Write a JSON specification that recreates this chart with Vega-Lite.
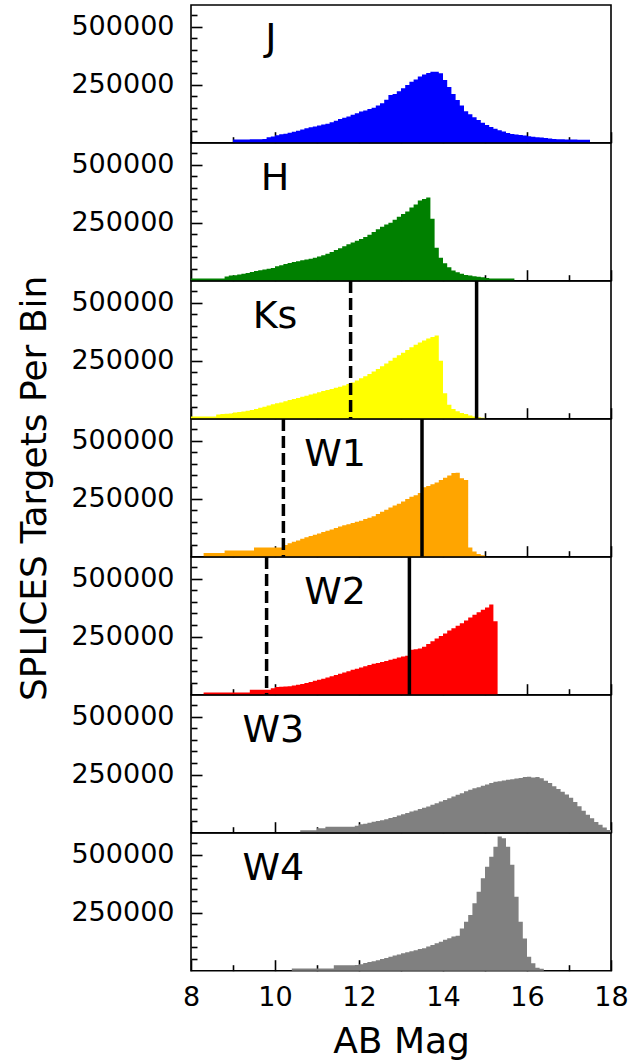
{
 "$schema": "https://vega.github.io/schema/vega-lite/v6.json",
 "background": "white",
 "padding": {"left": 16, "top": 0, "right": 16, "bottom": 2},
 "spacing": 0,
 "bounds": "flush",
 "config": {
  "view": {"stroke": "#000", "strokeWidth": 1.6},
  "axis": {"domain": false, "grid": false, "labelFont": "DejaVu Sans", "labelFontSize": 27, "labelColor": "#000", "tickColor": "#000", "tickWidth": 1.6, "titleFont": "DejaVu Sans", "titleFontSize": 36, "titleFontWeight": "normal", "titleColor": "#000", "labelOverlap": false, "zindex": 1, "tickCount": 30},
  "concat": {"spacing": 0}
 },
 "datasets": {
  "hist": [
   {"b":"J","m":9.0,"n":14000},{"b":"J","m":9.1,"n":14000},{"b":"J","m":9.2,"n":14000},{"b":"J","m":9.3,"n":14000},{"b":"J","m":9.4,"n":15000},{"b":"J","m":9.5,"n":15000},{"b":"J","m":9.6,"n":15000},{"b":"J","m":9.7,"n":16000},{"b":"J","m":9.8,"n":24000},{"b":"J","m":9.9,"n":27000},
   {"b":"J","m":10.0,"n":32000},{"b":"J","m":10.1,"n":36000},{"b":"J","m":10.2,"n":39000},{"b":"J","m":10.3,"n":43000},{"b":"J","m":10.4,"n":47000},{"b":"J","m":10.5,"n":52000},{"b":"J","m":10.6,"n":57000},{"b":"J","m":10.7,"n":62000},{"b":"J","m":10.8,"n":66000},{"b":"J","m":10.9,"n":70000},
   {"b":"J","m":11.0,"n":74000},{"b":"J","m":11.1,"n":78000},{"b":"J","m":11.2,"n":82000},{"b":"J","m":11.3,"n":88000},{"b":"J","m":11.4,"n":95000},{"b":"J","m":11.5,"n":102000},{"b":"J","m":11.6,"n":107000},{"b":"J","m":11.7,"n":113000},{"b":"J","m":11.8,"n":120000},{"b":"J","m":11.9,"n":127000},
   {"b":"J","m":12.0,"n":134000},{"b":"J","m":12.1,"n":139000},{"b":"J","m":12.2,"n":145000},{"b":"J","m":12.3,"n":150000},{"b":"J","m":12.4,"n":160000},{"b":"J","m":12.5,"n":170000},{"b":"J","m":12.6,"n":185000},{"b":"J","m":12.7,"n":205000},{"b":"J","m":12.8,"n":210000},{"b":"J","m":12.9,"n":222000},
   {"b":"J","m":13.0,"n":234000},{"b":"J","m":13.1,"n":248000},{"b":"J","m":13.2,"n":262000},{"b":"J","m":13.3,"n":272000},{"b":"J","m":13.4,"n":285000},{"b":"J","m":13.5,"n":294000},{"b":"J","m":13.6,"n":300000},{"b":"J","m":13.7,"n":306000},{"b":"J","m":13.8,"n":306000},{"b":"J","m":13.9,"n":299000},
   {"b":"J","m":14.0,"n":270000},{"b":"J","m":14.1,"n":240000},{"b":"J","m":14.2,"n":210000},{"b":"J","m":14.3,"n":184000},{"b":"J","m":14.4,"n":160000},{"b":"J","m":14.5,"n":135000},{"b":"J","m":14.6,"n":122000},{"b":"J","m":14.7,"n":110000},{"b":"J","m":14.8,"n":98000},{"b":"J","m":14.9,"n":86000},
   {"b":"J","m":15.0,"n":76000},{"b":"J","m":15.1,"n":68000},{"b":"J","m":15.2,"n":60000},{"b":"J","m":15.3,"n":54000},{"b":"J","m":15.4,"n":48000},{"b":"J","m":15.5,"n":42000},{"b":"J","m":15.6,"n":38000},{"b":"J","m":15.7,"n":35000},{"b":"J","m":15.8,"n":33000},{"b":"J","m":15.9,"n":31000},
   {"b":"J","m":16.0,"n":28000},{"b":"J","m":16.1,"n":26000},{"b":"J","m":16.2,"n":24000},{"b":"J","m":16.3,"n":22000},{"b":"J","m":16.4,"n":20000},{"b":"J","m":16.5,"n":18000},{"b":"J","m":16.6,"n":16000},{"b":"J","m":16.7,"n":15000},{"b":"J","m":16.8,"n":15000},{"b":"J","m":16.9,"n":14000},
   {"b":"J","m":17.0,"n":14000},{"b":"J","m":17.1,"n":14000},{"b":"J","m":17.2,"n":13000},{"b":"J","m":17.3,"n":13000},{"b":"J","m":17.4,"n":13000},{"b":"J","m":17.5,"n":0},

   {"b":"H","m":8.0,"n":9000},{"b":"H","m":8.1,"n":9000},{"b":"H","m":8.2,"n":9000},{"b":"H","m":8.3,"n":9000},{"b":"H","m":8.4,"n":9000},{"b":"H","m":8.5,"n":9000},{"b":"H","m":8.6,"n":9000},{"b":"H","m":8.7,"n":9000},{"b":"H","m":8.8,"n":18000},{"b":"H","m":8.9,"n":22000},
   {"b":"H","m":9.0,"n":24000},{"b":"H","m":9.1,"n":27000},{"b":"H","m":9.2,"n":30000},{"b":"H","m":9.3,"n":33000},{"b":"H","m":9.4,"n":38000},{"b":"H","m":9.5,"n":42000},{"b":"H","m":9.6,"n":45000},{"b":"H","m":9.7,"n":48000},{"b":"H","m":9.8,"n":51000},{"b":"H","m":9.9,"n":55000},
   {"b":"H","m":10.0,"n":62000},{"b":"H","m":10.1,"n":67000},{"b":"H","m":10.2,"n":72000},{"b":"H","m":10.3,"n":76000},{"b":"H","m":10.4,"n":80000},{"b":"H","m":10.5,"n":84000},{"b":"H","m":10.6,"n":88000},{"b":"H","m":10.7,"n":91000},{"b":"H","m":10.8,"n":94000},{"b":"H","m":10.9,"n":99000},
   {"b":"H","m":11.0,"n":104000},{"b":"H","m":11.1,"n":110000},{"b":"H","m":11.2,"n":116000},{"b":"H","m":11.3,"n":124000},{"b":"H","m":11.4,"n":132000},{"b":"H","m":11.5,"n":140000},{"b":"H","m":11.6,"n":148000},{"b":"H","m":11.7,"n":157000},{"b":"H","m":11.8,"n":165000},{"b":"H","m":11.9,"n":172000},
   {"b":"H","m":12.0,"n":180000},{"b":"H","m":12.1,"n":188000},{"b":"H","m":12.2,"n":198000},{"b":"H","m":12.3,"n":210000},{"b":"H","m":12.4,"n":222000},{"b":"H","m":12.5,"n":232000},{"b":"H","m":12.6,"n":242000},{"b":"H","m":12.7,"n":250000},{"b":"H","m":12.8,"n":262000},{"b":"H","m":12.9,"n":275000},
   {"b":"H","m":13.0,"n":287000},{"b":"H","m":13.1,"n":298000},{"b":"H","m":13.2,"n":315000},{"b":"H","m":13.3,"n":328000},{"b":"H","m":13.4,"n":345000},{"b":"H","m":13.5,"n":352000},{"b":"H","m":13.6,"n":358000},{"b":"H","m":13.7,"n":267000},{"b":"H","m":13.8,"n":142000},{"b":"H","m":13.9,"n":99000},
   {"b":"H","m":14.0,"n":75000},{"b":"H","m":14.1,"n":58000},{"b":"H","m":14.2,"n":44000},{"b":"H","m":14.3,"n":36000},{"b":"H","m":14.4,"n":30000},{"b":"H","m":14.5,"n":25000},{"b":"H","m":14.6,"n":22000},{"b":"H","m":14.7,"n":19000},{"b":"H","m":14.8,"n":17000},{"b":"H","m":14.9,"n":15000},
   {"b":"H","m":15.0,"n":12000},{"b":"H","m":15.1,"n":10000},{"b":"H","m":15.2,"n":9000},{"b":"H","m":15.3,"n":9000},{"b":"H","m":15.4,"n":9000},{"b":"H","m":15.5,"n":9000},{"b":"H","m":15.6,"n":9000},{"b":"H","m":15.7,"n":0},

   {"b":"Ks","m":8.0,"n":9000},{"b":"Ks","m":8.1,"n":9000},{"b":"Ks","m":8.2,"n":9000},{"b":"Ks","m":8.3,"n":9000},{"b":"Ks","m":8.4,"n":9000},{"b":"Ks","m":8.5,"n":9000},{"b":"Ks","m":8.6,"n":18000},{"b":"Ks","m":8.7,"n":20000},{"b":"Ks","m":8.8,"n":21000},{"b":"Ks","m":8.9,"n":22000},
   {"b":"Ks","m":9.0,"n":27000},{"b":"Ks","m":9.1,"n":29000},{"b":"Ks","m":9.2,"n":31000},{"b":"Ks","m":9.3,"n":34000},{"b":"Ks","m":9.4,"n":38000},{"b":"Ks","m":9.5,"n":42000},{"b":"Ks","m":9.6,"n":47000},{"b":"Ks","m":9.7,"n":52000},{"b":"Ks","m":9.8,"n":57000},{"b":"Ks","m":9.9,"n":62000},
   {"b":"Ks","m":10.0,"n":66000},{"b":"Ks","m":10.1,"n":70000},{"b":"Ks","m":10.2,"n":75000},{"b":"Ks","m":10.3,"n":80000},{"b":"Ks","m":10.4,"n":85000},{"b":"Ks","m":10.5,"n":89000},{"b":"Ks","m":10.6,"n":94000},{"b":"Ks","m":10.7,"n":99000},{"b":"Ks","m":10.8,"n":104000},{"b":"Ks","m":10.9,"n":109000},
   {"b":"Ks","m":11.0,"n":114000},{"b":"Ks","m":11.1,"n":119000},{"b":"Ks","m":11.2,"n":124000},{"b":"Ks","m":11.3,"n":128000},{"b":"Ks","m":11.4,"n":133000},{"b":"Ks","m":11.5,"n":138000},{"b":"Ks","m":11.6,"n":143000},{"b":"Ks","m":11.7,"n":149000},{"b":"Ks","m":11.8,"n":156000},{"b":"Ks","m":11.9,"n":165000},
   {"b":"Ks","m":12.0,"n":174000},{"b":"Ks","m":12.1,"n":183000},{"b":"Ks","m":12.2,"n":193000},{"b":"Ks","m":12.3,"n":203000},{"b":"Ks","m":12.4,"n":214000},{"b":"Ks","m":12.5,"n":226000},{"b":"Ks","m":12.6,"n":238000},{"b":"Ks","m":12.7,"n":250000},{"b":"Ks","m":12.8,"n":262000},{"b":"Ks","m":12.9,"n":273000},
   {"b":"Ks","m":13.0,"n":284000},{"b":"Ks","m":13.1,"n":296000},{"b":"Ks","m":13.2,"n":308000},{"b":"Ks","m":13.3,"n":318000},{"b":"Ks","m":13.4,"n":328000},{"b":"Ks","m":13.5,"n":337000},{"b":"Ks","m":13.6,"n":345000},{"b":"Ks","m":13.7,"n":352000},{"b":"Ks","m":13.8,"n":358000},{"b":"Ks","m":13.9,"n":250000},
   {"b":"Ks","m":14.0,"n":110000},{"b":"Ks","m":14.1,"n":60000},{"b":"Ks","m":14.2,"n":42000},{"b":"Ks","m":14.3,"n":32000},{"b":"Ks","m":14.4,"n":25000},{"b":"Ks","m":14.5,"n":20000},{"b":"Ks","m":14.6,"n":14000},{"b":"Ks","m":14.7,"n":9000},{"b":"Ks","m":14.8,"n":6000},{"b":"Ks","m":14.9,"n":4000},{"b":"Ks","m":15.0,"n":0},

   {"b":"W1","m":8.3,"n":16000},{"b":"W1","m":8.4,"n":16000},{"b":"W1","m":8.5,"n":16000},{"b":"W1","m":8.6,"n":16000},{"b":"W1","m":8.7,"n":16000},{"b":"W1","m":8.8,"n":27000},{"b":"W1","m":8.9,"n":27000},
   {"b":"W1","m":9.0,"n":27000},{"b":"W1","m":9.1,"n":27000},{"b":"W1","m":9.2,"n":27000},{"b":"W1","m":9.3,"n":27000},{"b":"W1","m":9.4,"n":27000},{"b":"W1","m":9.5,"n":40000},{"b":"W1","m":9.6,"n":40000},{"b":"W1","m":9.7,"n":40000},{"b":"W1","m":9.8,"n":40000},{"b":"W1","m":9.9,"n":40000},
   {"b":"W1","m":10.0,"n":40000},{"b":"W1","m":10.1,"n":40000},{"b":"W1","m":10.2,"n":50000},{"b":"W1","m":10.3,"n":58000},{"b":"W1","m":10.4,"n":64000},{"b":"W1","m":10.5,"n":70000},{"b":"W1","m":10.6,"n":77000},{"b":"W1","m":10.7,"n":84000},{"b":"W1","m":10.8,"n":89000},{"b":"W1","m":10.9,"n":94000},
   {"b":"W1","m":11.0,"n":100000},{"b":"W1","m":11.1,"n":106000},{"b":"W1","m":11.2,"n":112000},{"b":"W1","m":11.3,"n":117000},{"b":"W1","m":11.4,"n":124000},{"b":"W1","m":11.5,"n":130000},{"b":"W1","m":11.6,"n":135000},{"b":"W1","m":11.7,"n":140000},{"b":"W1","m":11.8,"n":145000},{"b":"W1","m":11.9,"n":150000},
   {"b":"W1","m":12.0,"n":155000},{"b":"W1","m":12.1,"n":162000},{"b":"W1","m":12.2,"n":168000},{"b":"W1","m":12.3,"n":174000},{"b":"W1","m":12.4,"n":184000},{"b":"W1","m":12.5,"n":194000},{"b":"W1","m":12.6,"n":202000},{"b":"W1","m":12.7,"n":212000},{"b":"W1","m":12.8,"n":220000},{"b":"W1","m":12.9,"n":228000},
   {"b":"W1","m":13.0,"n":238000},{"b":"W1","m":13.1,"n":248000},{"b":"W1","m":13.2,"n":258000},{"b":"W1","m":13.3,"n":265000},{"b":"W1","m":13.4,"n":274000},{"b":"W1","m":13.5,"n":299000},{"b":"W1","m":13.6,"n":305000},{"b":"W1","m":13.7,"n":312000},{"b":"W1","m":13.8,"n":320000},{"b":"W1","m":13.9,"n":330000},
   {"b":"W1","m":14.0,"n":340000},{"b":"W1","m":14.1,"n":350000},{"b":"W1","m":14.2,"n":360000},{"b":"W1","m":14.3,"n":362000},{"b":"W1","m":14.4,"n":338000},{"b":"W1","m":14.5,"n":330000},{"b":"W1","m":14.6,"n":40000},{"b":"W1","m":14.7,"n":22000},{"b":"W1","m":14.8,"n":12000},{"b":"W1","m":14.9,"n":6000},{"b":"W1","m":15.0,"n":0},

   {"b":"W2","m":8.3,"n":10000},{"b":"W2","m":8.4,"n":10000},{"b":"W2","m":8.5,"n":10000},{"b":"W2","m":8.6,"n":10000},{"b":"W2","m":8.7,"n":10000},{"b":"W2","m":8.8,"n":10000},{"b":"W2","m":8.9,"n":10000},
   {"b":"W2","m":9.0,"n":10000},{"b":"W2","m":9.1,"n":10000},{"b":"W2","m":9.2,"n":10000},{"b":"W2","m":9.3,"n":10000},{"b":"W2","m":9.4,"n":21000},{"b":"W2","m":9.5,"n":21000},{"b":"W2","m":9.6,"n":21000},{"b":"W2","m":9.7,"n":21000},{"b":"W2","m":9.8,"n":21000},{"b":"W2","m":9.9,"n":28000},
   {"b":"W2","m":10.0,"n":33000},{"b":"W2","m":10.1,"n":34000},{"b":"W2","m":10.2,"n":35000},{"b":"W2","m":10.3,"n":36000},{"b":"W2","m":10.4,"n":40000},{"b":"W2","m":10.5,"n":43000},{"b":"W2","m":10.6,"n":46000},{"b":"W2","m":10.7,"n":50000},{"b":"W2","m":10.8,"n":55000},{"b":"W2","m":10.9,"n":60000},
   {"b":"W2","m":11.0,"n":64000},{"b":"W2","m":11.1,"n":69000},{"b":"W2","m":11.2,"n":74000},{"b":"W2","m":11.3,"n":79000},{"b":"W2","m":11.4,"n":85000},{"b":"W2","m":11.5,"n":90000},{"b":"W2","m":11.6,"n":96000},{"b":"W2","m":11.7,"n":101000},{"b":"W2","m":11.8,"n":107000},{"b":"W2","m":11.9,"n":112000},
   {"b":"W2","m":12.0,"n":117000},{"b":"W2","m":12.1,"n":122000},{"b":"W2","m":12.2,"n":128000},{"b":"W2","m":12.3,"n":133000},{"b":"W2","m":12.4,"n":137000},{"b":"W2","m":12.5,"n":141000},{"b":"W2","m":12.6,"n":145000},{"b":"W2","m":12.7,"n":150000},{"b":"W2","m":12.8,"n":155000},{"b":"W2","m":12.9,"n":160000},
   {"b":"W2","m":13.0,"n":164000},{"b":"W2","m":13.1,"n":168000},{"b":"W2","m":13.2,"n":194000},{"b":"W2","m":13.3,"n":196000},{"b":"W2","m":13.4,"n":199000},{"b":"W2","m":13.5,"n":206000},{"b":"W2","m":13.6,"n":218000},{"b":"W2","m":13.7,"n":230000},{"b":"W2","m":13.8,"n":242000},{"b":"W2","m":13.9,"n":253000},
   {"b":"W2","m":14.0,"n":264000},{"b":"W2","m":14.1,"n":276000},{"b":"W2","m":14.2,"n":286000},{"b":"W2","m":14.3,"n":297000},{"b":"W2","m":14.4,"n":308000},{"b":"W2","m":14.5,"n":320000},{"b":"W2","m":14.6,"n":332000},{"b":"W2","m":14.7,"n":344000},{"b":"W2","m":14.8,"n":355000},{"b":"W2","m":14.9,"n":366000},
   {"b":"W2","m":15.0,"n":375000},{"b":"W2","m":15.1,"n":388000},{"b":"W2","m":15.2,"n":316000},{"b":"W2","m":15.3,"n":0},

   {"b":"W3","m":10.6,"n":11000},{"b":"W3","m":10.7,"n":11000},{"b":"W3","m":10.8,"n":11000},{"b":"W3","m":10.9,"n":11000},
   {"b":"W3","m":11.0,"n":19000},{"b":"W3","m":11.1,"n":19000},{"b":"W3","m":11.2,"n":26000},{"b":"W3","m":11.3,"n":26000},{"b":"W3","m":11.4,"n":26000},{"b":"W3","m":11.5,"n":26000},{"b":"W3","m":11.6,"n":26000},{"b":"W3","m":11.7,"n":26000},{"b":"W3","m":11.8,"n":26000},{"b":"W3","m":11.9,"n":30000},
   {"b":"W3","m":12.0,"n":36000},{"b":"W3","m":12.1,"n":39000},{"b":"W3","m":12.2,"n":43000},{"b":"W3","m":12.3,"n":47000},{"b":"W3","m":12.4,"n":50000},{"b":"W3","m":12.5,"n":54000},{"b":"W3","m":12.6,"n":58000},{"b":"W3","m":12.7,"n":63000},{"b":"W3","m":12.8,"n":68000},{"b":"W3","m":12.9,"n":74000},
   {"b":"W3","m":13.0,"n":79000},{"b":"W3","m":13.1,"n":85000},{"b":"W3","m":13.2,"n":91000},{"b":"W3","m":13.3,"n":96000},{"b":"W3","m":13.4,"n":102000},{"b":"W3","m":13.5,"n":107000},{"b":"W3","m":13.6,"n":113000},{"b":"W3","m":13.7,"n":120000},{"b":"W3","m":13.8,"n":127000},{"b":"W3","m":13.9,"n":134000},
   {"b":"W3","m":14.0,"n":141000},{"b":"W3","m":14.1,"n":148000},{"b":"W3","m":14.2,"n":156000},{"b":"W3","m":14.3,"n":163000},{"b":"W3","m":14.4,"n":170000},{"b":"W3","m":14.5,"n":178000},{"b":"W3","m":14.6,"n":185000},{"b":"W3","m":14.7,"n":191000},{"b":"W3","m":14.8,"n":196000},{"b":"W3","m":14.9,"n":202000},
   {"b":"W3","m":15.0,"n":208000},{"b":"W3","m":15.1,"n":214000},{"b":"W3","m":15.2,"n":219000},{"b":"W3","m":15.3,"n":222000},{"b":"W3","m":15.4,"n":225000},{"b":"W3","m":15.5,"n":228000},{"b":"W3","m":15.6,"n":230000},{"b":"W3","m":15.7,"n":233000},{"b":"W3","m":15.8,"n":236000},{"b":"W3","m":15.9,"n":240000},
   {"b":"W3","m":16.0,"n":241000},{"b":"W3","m":16.1,"n":238000},{"b":"W3","m":16.2,"n":240000},{"b":"W3","m":16.3,"n":234000},{"b":"W3","m":16.4,"n":224000},{"b":"W3","m":16.5,"n":214000},{"b":"W3","m":16.6,"n":200000},{"b":"W3","m":16.7,"n":188000},{"b":"W3","m":16.8,"n":176000},{"b":"W3","m":16.9,"n":164000},
   {"b":"W3","m":17.0,"n":150000},{"b":"W3","m":17.1,"n":132000},{"b":"W3","m":17.2,"n":114000},{"b":"W3","m":17.3,"n":95000},{"b":"W3","m":17.4,"n":77000},{"b":"W3","m":17.5,"n":62000},{"b":"W3","m":17.6,"n":46000},{"b":"W3","m":17.7,"n":34000},{"b":"W3","m":17.8,"n":22000},{"b":"W3","m":17.9,"n":12000},{"b":"W3","m":18.0,"n":0},

   {"b":"W4","m":10.4,"n":10000},{"b":"W4","m":10.5,"n":10000},{"b":"W4","m":10.6,"n":10000},{"b":"W4","m":10.7,"n":10000},{"b":"W4","m":10.8,"n":10000},{"b":"W4","m":10.9,"n":10000},
   {"b":"W4","m":11.0,"n":10000},{"b":"W4","m":11.1,"n":10000},{"b":"W4","m":11.2,"n":10000},{"b":"W4","m":11.3,"n":10000},{"b":"W4","m":11.4,"n":24000},{"b":"W4","m":11.5,"n":24000},{"b":"W4","m":11.6,"n":24000},{"b":"W4","m":11.7,"n":24000},{"b":"W4","m":11.8,"n":24000},{"b":"W4","m":11.9,"n":25000},
   {"b":"W4","m":12.0,"n":28000},{"b":"W4","m":12.1,"n":33000},{"b":"W4","m":12.2,"n":37000},{"b":"W4","m":12.3,"n":41000},{"b":"W4","m":12.4,"n":45000},{"b":"W4","m":12.5,"n":50000},{"b":"W4","m":12.6,"n":55000},{"b":"W4","m":12.7,"n":60000},{"b":"W4","m":12.8,"n":65000},{"b":"W4","m":12.9,"n":70000},
   {"b":"W4","m":13.0,"n":75000},{"b":"W4","m":13.1,"n":79000},{"b":"W4","m":13.2,"n":84000},{"b":"W4","m":13.3,"n":88000},{"b":"W4","m":13.4,"n":93000},{"b":"W4","m":13.5,"n":97000},{"b":"W4","m":13.6,"n":104000},{"b":"W4","m":13.7,"n":111000},{"b":"W4","m":13.8,"n":118000},{"b":"W4","m":13.9,"n":125000},
   {"b":"W4","m":14.0,"n":133000},{"b":"W4","m":14.1,"n":140000},{"b":"W4","m":14.2,"n":147000},{"b":"W4","m":14.3,"n":150000},{"b":"W4","m":14.4,"n":182000},{"b":"W4","m":14.5,"n":211000},{"b":"W4","m":14.6,"n":240000},{"b":"W4","m":14.7,"n":290000},{"b":"W4","m":14.8,"n":340000},{"b":"W4","m":14.9,"n":398000},
   {"b":"W4","m":15.0,"n":448000},{"b":"W4","m":15.1,"n":491000},{"b":"W4","m":15.2,"n":534000},{"b":"W4","m":15.3,"n":578000},{"b":"W4","m":15.4,"n":570000},{"b":"W4","m":15.5,"n":534000},{"b":"W4","m":15.6,"n":456000},{"b":"W4","m":15.7,"n":319000},{"b":"W4","m":15.8,"n":211000},{"b":"W4","m":15.9,"n":139000},
   {"b":"W4","m":16.0,"n":60000},{"b":"W4","m":16.1,"n":32000},{"b":"W4","m":16.2,"n":13000},{"b":"W4","m":16.3,"n":8000},{"b":"W4","m":16.4,"n":0}
  ]
 },
 "vconcat": [
  {
   "width": 420, "height": 137.7,
   "layer": [
    {"data": {"name": "hist"}, "transform": [{"filter": "datum.b === 'J'"}],
     "mark": {"type": "area", "interpolate": "step-after", "color": "#0000ff"},
     "encoding": {
      "x": {"field": "m", "type": "quantitative", "scale": {"domain": [8, 18], "nice": false, "zero": false}, "axis": {"values": [8,9,10,11,12,13,14,15,16,17,18], "tickCount": 30, "format": "d", "tickSize": {"condition": {"test": "datum.value % 2 === 0", "value": -11}, "value": -6}, "labels": false, "title": null}},
      "y": {"field": "n", "type": "quantitative", "scale": {"domain": [0, 593000], "nice": false}, "axis": {"values": [50000,100000,150000,200000,250000,300000,350000,400000,450000,500000,550000], "tickCount": 30, "tickSize": {"condition": {"test": "datum.value % 250000 === 0", "value": -11}, "value": -6}, "labelExpr": "datum.value === 250000 || datum.value === 500000 ? datum.label : ''", "format": "d", "labelOverlap": false, "labelPadding": 28, "title": null}}
     }},
    {"data": {"values": [{"b": "J"}]}, "mark": {"type": "text", "font": "DejaVu Sans", "fontSize": 38, "color": "#000", "align": "center", "baseline": "middle"},
     "encoding": {"x": {"datum": 9.9, "type": "quantitative"}, "y": {"datum": 445000, "type": "quantitative"}, "text": {"field": "b"}}}
   ]
  },
  {
   "width": 420, "height": 137.7,
   "layer": [
    {"data": {"name": "hist"}, "transform": [{"filter": "datum.b === 'H'"}],
     "mark": {"type": "area", "interpolate": "step-after", "color": "#008000"},
     "encoding": {
      "x": {"field": "m", "type": "quantitative", "scale": {"domain": [8, 18], "nice": false, "zero": false}, "axis": {"values": [8,9,10,11,12,13,14,15,16,17,18], "tickCount": 30, "format": "d", "tickSize": {"condition": {"test": "datum.value % 2 === 0", "value": -11}, "value": -6}, "labels": false, "title": null}},
      "y": {"field": "n", "type": "quantitative", "scale": {"domain": [0, 593000], "nice": false}, "axis": {"values": [50000,100000,150000,200000,250000,300000,350000,400000,450000,500000,550000], "tickCount": 30, "tickSize": {"condition": {"test": "datum.value % 250000 === 0", "value": -11}, "value": -6}, "labelExpr": "datum.value === 250000 || datum.value === 500000 ? datum.label : ''", "format": "d", "labelOverlap": false, "labelPadding": 28, "title": null}}
     }},
    {"data": {"values": [{"b": "H"}]}, "mark": {"type": "text", "font": "DejaVu Sans", "fontSize": 38, "color": "#000", "align": "center", "baseline": "middle"},
     "encoding": {"x": {"datum": 10.0, "type": "quantitative"}, "y": {"datum": 440000, "type": "quantitative"}, "text": {"field": "b"}}}
   ]
  },
  {
   "width": 420, "height": 137.7,
   "layer": [
    {"data": {"name": "hist"}, "transform": [{"filter": "datum.b === 'Ks'"}],
     "mark": {"type": "area", "interpolate": "step-after", "color": "#ffff00"},
     "encoding": {
      "x": {"field": "m", "type": "quantitative", "scale": {"domain": [8, 18], "nice": false, "zero": false}, "axis": {"values": [8,9,10,11,12,13,14,15,16,17,18], "tickCount": 30, "format": "d", "tickSize": {"condition": {"test": "datum.value % 2 === 0", "value": -11}, "value": -6}, "labels": false, "title": null}},
      "y": {"field": "n", "type": "quantitative", "scale": {"domain": [0, 593000], "nice": false}, "axis": {"values": [50000,100000,150000,200000,250000,300000,350000,400000,450000,500000,550000], "tickCount": 30, "tickSize": {"condition": {"test": "datum.value % 250000 === 0", "value": -11}, "value": -6}, "labelExpr": "datum.value === 250000 || datum.value === 500000 ? datum.label : ''", "format": "d", "labelOverlap": false, "labelPadding": 28, "title": null}}
     }},
    {"data": {"values": [{"bright": 11.8, "faint": 14.8}]}, "mark": {"type": "rule", "color": "#000", "strokeWidth": 3.5, "strokeDash": [12, 5]},
     "encoding": {"x": {"field": "bright", "type": "quantitative"}}},
    {"data": {"values": [{"bright": 11.8, "faint": 14.8}]}, "mark": {"type": "rule", "color": "#000", "strokeWidth": 3.5},
     "encoding": {"x": {"field": "faint", "type": "quantitative"}}},
    {"data": {"values": [{"b": "Ks"}]}, "mark": {"type": "text", "font": "DejaVu Sans", "fontSize": 38, "color": "#000", "align": "center", "baseline": "middle"},
     "encoding": {"x": {"datum": 10.0, "type": "quantitative"}, "y": {"datum": 440000, "type": "quantitative"}, "text": {"field": "b"}}}
   ]
  },
  {
   "width": 420, "height": 137.7,
   "layer": [
    {"data": {"name": "hist"}, "transform": [{"filter": "datum.b === 'W1'"}],
     "mark": {"type": "area", "interpolate": "step-after", "color": "#ffa500"},
     "encoding": {
      "x": {"field": "m", "type": "quantitative", "scale": {"domain": [8, 18], "nice": false, "zero": false}, "axis": {"values": [8,9,10,11,12,13,14,15,16,17,18], "tickCount": 30, "format": "d", "tickSize": {"condition": {"test": "datum.value % 2 === 0", "value": -11}, "value": -6}, "labels": false, "title": null}},
      "y": {"field": "n", "type": "quantitative", "scale": {"domain": [0, 593000], "nice": false}, "axis": {"values": [50000,100000,150000,200000,250000,300000,350000,400000,450000,500000,550000], "tickCount": 30, "tickSize": {"condition": {"test": "datum.value % 250000 === 0", "value": -11}, "value": -6}, "labelExpr": "datum.value === 250000 || datum.value === 500000 ? datum.label : ''", "format": "d", "labelOverlap": false, "labelPadding": 28, "title": "SPLICES Targets Per Bin", "titlePadding": 17}}
     }},
    {"data": {"values": [{"bright": 10.2, "faint": 13.5}]}, "mark": {"type": "rule", "color": "#000", "strokeWidth": 3.5, "strokeDash": [12, 5]},
     "encoding": {"x": {"field": "bright", "type": "quantitative"}}},
    {"data": {"values": [{"bright": 10.2, "faint": 13.5}]}, "mark": {"type": "rule", "color": "#000", "strokeWidth": 3.5},
     "encoding": {"x": {"field": "faint", "type": "quantitative"}}},
    {"data": {"values": [{"b": "W1"}]}, "mark": {"type": "text", "font": "DejaVu Sans", "fontSize": 38, "color": "#000", "align": "center", "baseline": "middle"},
     "encoding": {"x": {"datum": 11.43, "type": "quantitative"}, "y": {"datum": 440000, "type": "quantitative"}, "text": {"field": "b"}}}
   ]
  },
  {
   "width": 420, "height": 137.7,
   "layer": [
    {"data": {"name": "hist"}, "transform": [{"filter": "datum.b === 'W2'"}],
     "mark": {"type": "area", "interpolate": "step-after", "color": "#ff0000"},
     "encoding": {
      "x": {"field": "m", "type": "quantitative", "scale": {"domain": [8, 18], "nice": false, "zero": false}, "axis": {"values": [8,9,10,11,12,13,14,15,16,17,18], "tickCount": 30, "format": "d", "tickSize": {"condition": {"test": "datum.value % 2 === 0", "value": -11}, "value": -6}, "labels": false, "title": null}},
      "y": {"field": "n", "type": "quantitative", "scale": {"domain": [0, 593000], "nice": false}, "axis": {"values": [50000,100000,150000,200000,250000,300000,350000,400000,450000,500000,550000], "tickCount": 30, "tickSize": {"condition": {"test": "datum.value % 250000 === 0", "value": -11}, "value": -6}, "labelExpr": "datum.value === 250000 || datum.value === 500000 ? datum.label : ''", "format": "d", "labelOverlap": false, "labelPadding": 28, "title": null}}
     }},
    {"data": {"values": [{"bright": 9.8, "faint": 13.2}]}, "mark": {"type": "rule", "color": "#000", "strokeWidth": 3.5, "strokeDash": [12, 5]},
     "encoding": {"x": {"field": "bright", "type": "quantitative"}}},
    {"data": {"values": [{"bright": 9.8, "faint": 13.2}]}, "mark": {"type": "rule", "color": "#000", "strokeWidth": 3.5},
     "encoding": {"x": {"field": "faint", "type": "quantitative"}}},
    {"data": {"values": [{"b": "W2"}]}, "mark": {"type": "text", "font": "DejaVu Sans", "fontSize": 38, "color": "#000", "align": "center", "baseline": "middle"},
     "encoding": {"x": {"datum": 11.43, "type": "quantitative"}, "y": {"datum": 440000, "type": "quantitative"}, "text": {"field": "b"}}}
   ]
  },
  {
   "width": 420, "height": 137.7,
   "layer": [
    {"data": {"name": "hist"}, "transform": [{"filter": "datum.b === 'W3'"}],
     "mark": {"type": "area", "interpolate": "step-after", "color": "#808080"},
     "encoding": {
      "x": {"field": "m", "type": "quantitative", "scale": {"domain": [8, 18], "nice": false, "zero": false}, "axis": {"values": [8,9,10,11,12,13,14,15,16,17,18], "tickCount": 30, "format": "d", "tickSize": {"condition": {"test": "datum.value % 2 === 0", "value": -11}, "value": -6}, "labels": false, "title": null}},
      "y": {"field": "n", "type": "quantitative", "scale": {"domain": [0, 593000], "nice": false}, "axis": {"values": [50000,100000,150000,200000,250000,300000,350000,400000,450000,500000,550000], "tickCount": 30, "tickSize": {"condition": {"test": "datum.value % 250000 === 0", "value": -11}, "value": -6}, "labelExpr": "datum.value === 250000 || datum.value === 500000 ? datum.label : ''", "format": "d", "labelOverlap": false, "labelPadding": 28, "title": null}}
     }},
    {"data": {"values": [{"b": "W3"}]}, "mark": {"type": "text", "font": "DejaVu Sans", "fontSize": 38, "color": "#000", "align": "center", "baseline": "middle"},
     "encoding": {"x": {"datum": 9.96, "type": "quantitative"}, "y": {"datum": 440000, "type": "quantitative"}, "text": {"field": "b"}}}
   ]
  },
  {
   "width": 420, "height": 137.7,
   "layer": [
    {"data": {"name": "hist"}, "transform": [{"filter": "datum.b === 'W4'"}],
     "mark": {"type": "area", "interpolate": "step-after", "color": "#808080"},
     "encoding": {
      "x": {"field": "m", "type": "quantitative", "scale": {"domain": [8, 18], "nice": false, "zero": false}, "axis": {"values": [8,9,10,11,12,13,14,15,16,17,18], "tickCount": 30, "format": "d", "tickSize": {"condition": {"test": "datum.value % 2 === 0", "value": -11}, "value": -6}, "labelExpr": "datum.value % 2 === 0 ? datum.label : ''", "labelFlush": false, "labelOverlap": false, "labelPadding": 25, "title": "AB Mag", "titlePadding": 9}},
      "y": {"field": "n", "type": "quantitative", "scale": {"domain": [0, 593000], "nice": false}, "axis": {"values": [50000,100000,150000,200000,250000,300000,350000,400000,450000,500000,550000], "tickCount": 30, "tickSize": {"condition": {"test": "datum.value % 250000 === 0", "value": -11}, "value": -6}, "labelExpr": "datum.value === 250000 || datum.value === 500000 ? datum.label : ''", "format": "d", "labelOverlap": false, "labelPadding": 28, "title": null}}
     }},
    {"data": {"values": [{"b": "W4"}]}, "mark": {"type": "text", "font": "DejaVu Sans", "fontSize": 38, "color": "#000", "align": "center", "baseline": "middle"},
     "encoding": {"x": {"datum": 9.96, "type": "quantitative"}, "y": {"datum": 440000, "type": "quantitative"}, "text": {"field": "b"}}}
   ]
  }
 ]
}
